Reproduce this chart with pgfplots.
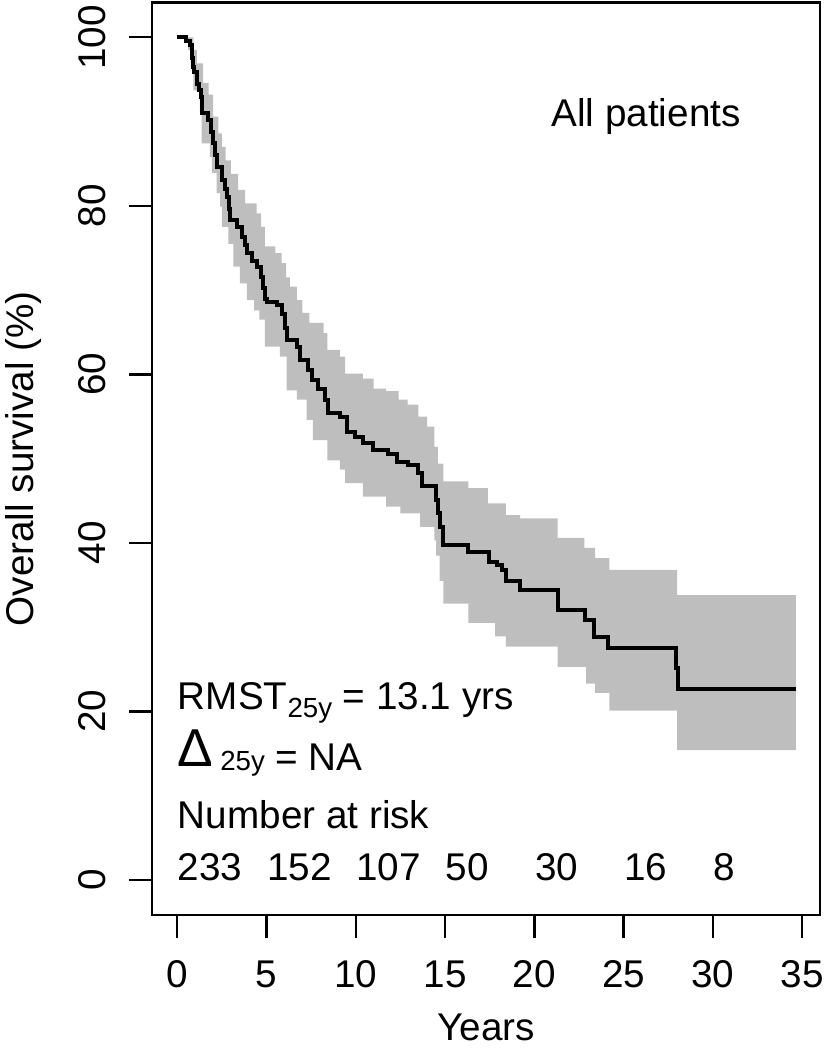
\documentclass[border=0pt]{standalone}
\usepackage{fontspec}
\setmainfont{Liberation Sans}
\usepackage{pgfplots}
\usepackage{pgfplotstable}
\pgfplotsset{compat=1.18}
\usepgfplotslibrary{fillbetween}
\definecolor{rgray}{HTML}{BEBEBE}

\pgfplotstableread{
t s
0 100
0.5 99.6
0.7 99.1
0.8 97.5
0.88 96.5
0.95 95.9
1.08 94.5
1.2 93.7
1.3 92.9
1.36 91.0
1.74 90.2
1.9 88.8
2.0 87.4
2.1 86.0
2.2 84.6
2.5 83.1
2.65 82.0
2.77 81.1
2.9 79.6
2.95 78.3
3.33 77.5
3.6 76.3
3.8 75.3
3.9 74.4
4.2 73.5
4.45 72.8
4.7 71.6
4.8 70.3
4.9 69.0
5.0 68.6
5.57 68.2
5.85 67.2
6.03 65.5
6.13 64.1
6.69 63.3
6.87 61.7
7.34 60.5
7.53 59.3
7.9 58.3
8.27 57.0
8.46 55.4
9.11 55.0
9.49 53.2
9.96 52.6
10.4 51.8
10.98 51.0
11.8 50.6
12.3 49.6
12.9 49.2
13.5 48.3
13.7 46.7
14.5 45.1
14.6 43.5
14.7 41.9
14.9 39.7
16.3 38.9
17.45 37.7
17.9 37.4
18.2 36.8
18.4 35.5
19.2 34.4
21.3 32.1
22.85 30.8
23.35 28.8
24.15 27.5
27.95 25.1
28.05 22.7
34.65 22.7
}\kmcurve

\pgfplotstableread{
t s
0 100
0.9 98.5
1.1 96.9
1.45 94.6
1.75 93.2
2.0 90.6
2.3 88.6
2.5 87.0
2.7 85.4
3.0 83.8
3.4 81.9
3.8 80.3
4.45 79.1
4.7 77.5
4.9 75.2
5.5 74.4
5.85 73.2
6.1 71.5
6.3 70.4
6.7 68.8
7.0 67.3
7.4 66.1
8.2 64.9
8.4 62.9
9.1 62.1
9.4 60.1
10.4 59.5
11.0 58.3
11.7 58.0
12.4 57.0
12.9 56.4
13.5 55.0
14.0 53.8
14.4 51.4
14.6 49.4
14.9 47.3
16.3 46.5
17.4 44.7
18.4 43.3
19.2 42.9
21.3 40.6
22.8 39.4
23.4 38.2
24.2 36.8
28.0 33.8
34.65 33.8
}\upperband

\pgfplotstableread{
t s
0 100
0.6 98.5
0.75 96.5
0.9 93.7
1.27 91.0
1.36 87.4
1.83 85.8
1.93 83.9
2.2 81.5
2.4 79.9
2.5 77.5
2.86 75.5
3.14 72.8
3.5 70.8
3.9 68.8
4.3 67.6
4.6 66.5
4.9 63.3
5.75 62.1
6.13 58.1
6.7 57.0
7.25 54.6
7.6 52.2
8.4 49.8
9.1 48.7
9.4 47.1
10.4 45.5
11.7 44.3
12.5 43.5
13.6 41.9
14.4 40.3
14.5 38.5
14.7 35.5
14.9 32.8
16.3 30.5
17.8 28.9
18.4 27.7
21.3 25.3
22.9 23.3
23.4 22.2
24.2 20.1
28.0 15.4
34.65 15.4
}\lowerband

\begin{document}
\begin{tikzpicture}[font=\fontsize{11.6}{14}\selectfont]
\begin{axis}[
  scale only axis, width=200.4pt, height=273.75pt,
  xmin=-1.417, xmax=36.0, ymin=-4.15, ymax=104.13,
  axis line style={line width=0.7pt},
  tick style={black, line width=0.7pt},
  major tick length=6.9pt, tick align=outside,
  xtick pos=bottom, ytick pos=left,
  xtick={0,5,...,35}, ytick={0,20,...,100},
  /pgf/number format/assume math mode=true,
  xticklabel style={inner sep=0pt, anchor=north, yshift=-6.6pt},
  yticklabel style={xshift=-6.6pt, rotate=90, anchor=south, inner sep=0pt},
  xlabel={Years}, ylabel={Overall survival (\%)},
  xlabel style={at={(axis description cs:0.5,-0.1375)}, anchor=base, inner sep=0pt},
  ylabel style={at={(axis description cs:-0.1781,0.5)}, anchor=base, inner sep=0pt},
]
\addplot[draw=none, const plot, name path=U, forget plot] table {\upperband};
\addplot[draw=none, const plot, name path=L, forget plot] table {\lowerband};
\addplot[rgray, draw=none, forget plot] fill between[of=U and L];
\addplot[black, line width=1.2pt, const plot] table {\kmcurve};

\node[anchor=base, inner sep=0pt] at (axis cs:26.26,89.4) {All patients};
\node[anchor=base west, inner sep=0pt] at (axis cs:0,20.2) {RMST\raisebox{-2.2pt}{\fontsize{8.3}{10}\selectfont 25y} = 13.1 yrs};
\node[anchor=base west, inner sep=0pt] at (axis cs:0,13.05) {\raisebox{1pt}{\fontsize{16}{18}\selectfont Δ}\hspace{2pt}{\fontsize{8.3}{10}\selectfont 25y} = NA};
\node[anchor=base west, inner sep=0pt] at (axis cs:0,6.1) {Number at risk};
\node[anchor=base west, inner sep=0pt] at (axis cs:0,0) {233};
\node[anchor=base west, inner sep=0pt] at (axis cs:5,0) {152};
\node[anchor=base west, inner sep=0pt] at (axis cs:10,0) {107};
\node[anchor=base west, inner sep=0pt] at (axis cs:15,0) {50};
\node[anchor=base west, inner sep=0pt] at (axis cs:20,0) {30};
\node[anchor=base west, inner sep=0pt] at (axis cs:25,0) {16};
\node[anchor=base west, inner sep=0pt] at (axis cs:30,0) {8};
\end{axis}
\pgfresetboundingbox
\path[use as bounding box] (-45.6pt,-40.5pt) rectangle (202.2pt,274.5pt);
\end{tikzpicture}
\end{document}
